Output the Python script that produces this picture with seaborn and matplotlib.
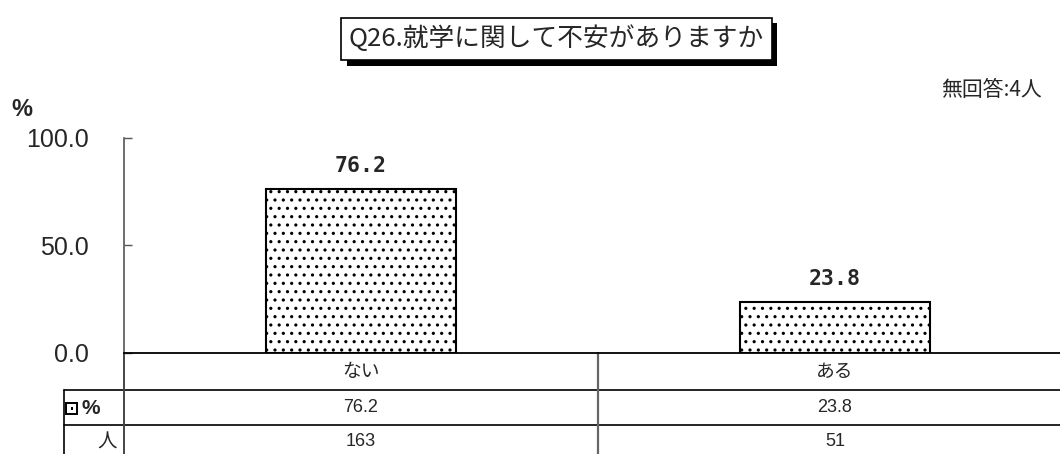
import matplotlib
matplotlib.use("Agg")
import matplotlib.pyplot as plt
import matplotlib.patheffects as pe
from matplotlib.ticker import FormatStrFormatter
from matplotlib.patches import Rectangle
import seaborn as sns

# ---- data ----
title = "Q26.就学に関して不安がありますか"
note = "無回答:4人"
categories = ["ない", "ある"]
percents = [76.2, 23.8]
counts = [163, 51]
row_labels = ["%", "人"]
y_ticks = [0.0, 50.0, 100.0]

sns.set_style("white")
plt.rcParams["font.family"] = ["Noto Sans CJK JP", "DejaVu Sans"]
plt.rcParams["hatch.linewidth"] = 1.1

W, H = 1060, 454
fig = plt.figure(figsize=(W / 100, H / 100), dpi=100)

# axes from x=124..1072 px, y=138..353 px
ax = fig.add_axes([124 / W, (H - 353) / H, (1072 - 124) / W, (353 - 138) / H])
sns.barplot(x=categories, y=percents, ax=ax, width=0.4, color="white",
            edgecolor="black", linewidth=1.5, saturation=1)
for p in ax.patches:
    p.set_hatch("..")
ax.set_ylim(0, 100)
ax.set_xlim(-0.5, 1.5)
ax.set_yticks(y_ticks)
ax.yaxis.set_major_formatter(FormatStrFormatter("%.1f"))
ax.tick_params(axis="y", left=True, direction="in", length=6, width=1, color="#555555",
               labelsize=18, pad=25)
for lab in ax.get_yticklabels():
    lab.set_family(["Liberation Sans", "DejaVu Sans"])
ax.tick_params(axis="x", bottom=False, labelbottom=False)
ax.set_xlabel("")
ax.set_ylabel("")
for s in ["top", "right"]:
    ax.spines[s].set_visible(False)
ax.spines["left"].set_color("#555555")
ax.spines["left"].set_linewidth(1.2)
ax.spines["bottom"].set_color("black")
ax.spines["bottom"].set_linewidth(1.3)

# bar value labels
for i, v in enumerate(percents):
    ax.text(i, v + 6, f"{v:.1f}", ha="center", va="bottom", fontsize=15.5,
            fontweight="bold", family=["DejaVu Sans Mono", "DejaVu Sans"])

# "%" unit label
fig.text(11 / W, 1 - 110 / H, "%", fontsize=17, fontweight="bold", va="center", ha="left",
         family=["Liberation Sans", "DejaVu Sans"])

# note
fig.text(1042 / W, 1 - 90 / H, note, fontsize=15, ha="right", va="center")

# title with shadow box
t = fig.text((336 + 777) / 2 / W, 1 - 39 / H, title, fontsize=18.5, ha="center", va="center",
             bbox=dict(boxstyle="square,pad=0.3", facecolor="white", edgecolor="black", linewidth=1.2))
t.get_bbox_patch().set_path_effects([
    pe.SimplePatchShadow(offset=(4, -4), shadow_rgbFace="black", alpha=1.0),
    pe.Normal()])

# ---- data table below axes ----
ppx = 1 / (353 - 138)     # axes-fraction per pixel (vertical)
def yax(px):
    return (353 - px) * ppx
def xax(px):
    return (px - 124) / (1072 - 124)
xl_hdr = xax(64)

tr = ax.transAxes
blend = matplotlib.transforms.blended_transform_factory(ax.transData, ax.transAxes)
kw = dict(color="black", lw=1.2, clip_on=False)
# horizontal lines
for ypx in [390, 425]:
    ax.plot([xl_hdr, 1.0], [yax(ypx), yax(ypx)], transform=tr, **kw)
# vertical lines
ax.plot([0, 0], [0, yax(460)], transform=tr, color="#444444", lw=1.4, clip_on=False)
ax.plot([xl_hdr, xl_hdr], [yax(390), yax(460)], transform=tr, **kw)
for i in range(len(categories) - 1):
    ax.plot([i + 0.5, i + 0.5], [0, yax(460)], transform=blend, color="#666666", lw=1.6, clip_on=False)

for i, c in enumerate(categories):
    ax.text(i, yax(371), c, transform=blend, ha="center", va="center", fontsize=13.5)
    ax.text(i, yax(408), f"{percents[i]:.1f}", transform=blend, ha="center", va="center",
            fontsize=13, family=["Liberation Sans Narrow", "Liberation Sans", "DejaVu Sans"])
    ax.text(i, yax(442), f"{counts[i]}", transform=blend, ha="center", va="center",
            fontsize=13, family=["Liberation Sans Narrow", "Liberation Sans", "DejaVu Sans"])

# row headers: legend swatch
ax.add_patch(Rectangle((xax(66), yax(414)), 11 / 948, 11 * ppx, transform=tr,
                       facecolor="white", edgecolor="black", lw=1.4, clip_on=False))
ax.add_patch(Rectangle((xax(70.5), yax(409.5)), 2.5 / 948, 2.5 * ppx, transform=tr,
                       facecolor="black", edgecolor="none", clip_on=False))
ax.text(xax(82), yax(408), row_labels[0], transform=tr, ha="left", va="center",
        fontsize=15, fontweight="bold", family=["Liberation Sans", "DejaVu Sans"])
ax.text(xax(117), yax(442), row_labels[1], transform=tr, ha="right", va="center",
        fontsize=14)

fig.savefig("out.png", dpi=100)
